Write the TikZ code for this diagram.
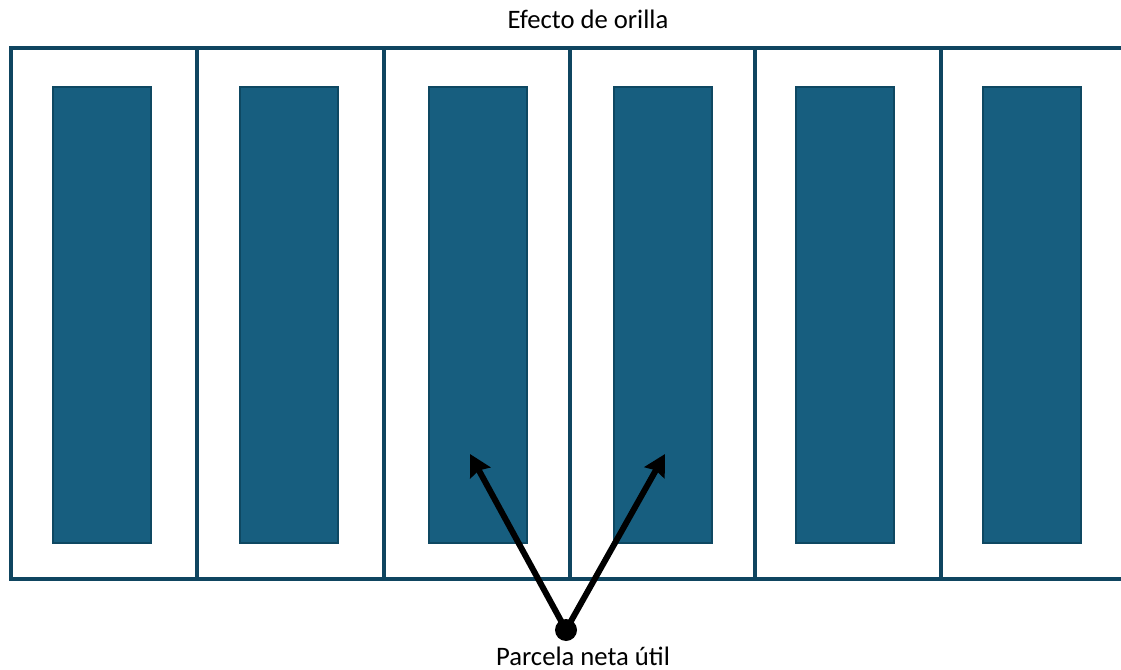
\documentclass[tikz,border=0pt]{standalone}
\usepackage{fontspec}
\setmainfont{Carlito}
\usetikzlibrary{arrows.meta}

\definecolor{frameblue}{RGB}{15,69,96}
\definecolor{plotfill}{RGB}{23,94,127}
\definecolor{plotedge}{RGB}{14,72,98}

\begin{document}
\begin{tikzpicture}[x=0.75pt,y=0.75pt,yscale=-1,xscale=1,
    borde/.style={draw=frameblue, line width=3pt},
    util/.style={draw=plotedge, fill=plotfill, line width=1.1pt},
    flecha/.style={line width=4.5pt, -{Stealth[length=16pt,width=17pt,inset=2pt]}},
    rotulo/.style={inner sep=0.75pt, font=\fontsize{20}{24}\selectfont}]
        \useasboundingbox (0,0) rectangle (1121,670); %diagram is 1121 wide and 670 high

        %Shape: Rectangle [id:plot1] 
        \draw [borde]  (11,48) rectangle (197,579) ;
        %Shape: Rectangle [id:plot2] 
        \draw [borde]  (197,48) rectangle (384,579) ;
        %Shape: Rectangle [id:plot3] 
        \draw [borde]  (384,48) rectangle (570,579) ;
        %Shape: Rectangle [id:plot4] 
        \draw [borde]  (570,48) rectangle (755,579) ;
        %Shape: Rectangle [id:plot5] 
        \draw [borde]  (755,48) rectangle (941,579) ;
        %Shape: Open plot at right edge [id:plot6] 
        \draw [borde]  (1121,48) -- (941,48) -- (941,579) -- (1121,579) ;

        %Shape: Rectangle [id:neta1] 
        \draw [util]  (53,87) rectangle (151,543) ;
        %Shape: Rectangle [id:neta2] 
        \draw [util]  (240,87) rectangle (338,543) ;
        %Shape: Rectangle [id:neta3] 
        \draw [util]  (429,87) rectangle (527,543) ;
        %Shape: Rectangle [id:neta4] 
        \draw [util]  (614,87) rectangle (712,543) ;
        %Shape: Rectangle [id:neta5] 
        \draw [util]  (796,87) rectangle (894,543) ;
        %Shape: Rectangle [id:neta6] 
        \draw [util]  (983,87) rectangle (1081,543) ;

        %Shape: Circle [id:punto] 
        \node (punto) [circle, fill=black, inner sep=0pt, minimum size=16.5pt] at (566,630) {};
        \coordinate (puntaIzq) at (470,454);
        \coordinate (puntaDer) at (665,454);

        %Straight Lines [id:flechaIzq] 
        \draw [flecha]  (punto.center) -- (puntaIzq) ;
        %Straight Lines [id:flechaDer] 
        \draw [flecha]  (punto.center) -- (puntaDer) ;

        % Text Node
        \node (orilla) [rotulo] at (588,19) {Efecto de orilla};
        % Text Node
        \node (neta) [rotulo] at (583,656) {Parcela neta útil};

\end{tikzpicture}
\end{document}
